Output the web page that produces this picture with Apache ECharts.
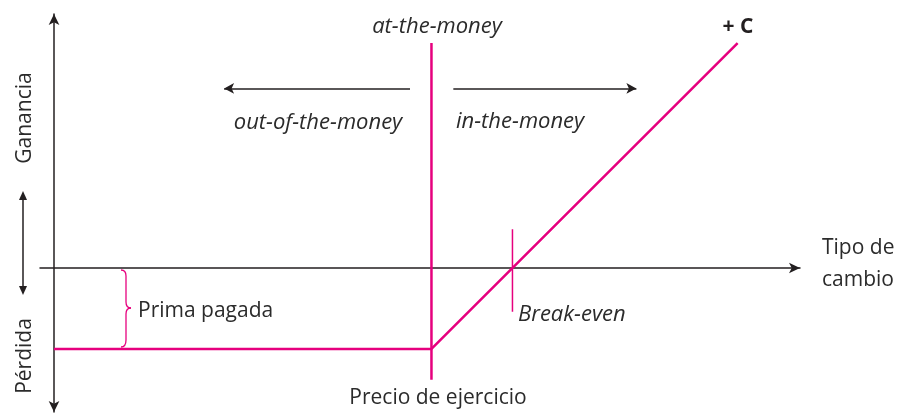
<!DOCTYPE html>
<html><head><meta charset="utf-8">
<script src="https://cdn.jsdelivr.net/npm/echarts@6/dist/echarts.min.js"></script>
<style>html,body{margin:0;padding:0;background:#fff}#c{width:902px;height:416px}</style>
</head><body><div id="c"></div>
<script>
// Schematic values (units: premium = 10)
const strike = 46.6;
const premium = 10;
const breakEven = strike + premium;
const payoffX = [0, strike, 84.4];
const payoffY = [-premium, -premium, 84.4 - breakEven];
const atmLine = [[strike, 27.8], [strike, -13.8]];
const breakEvenTick = [[breakEven, 4.8], [breakEven, -5.4]];
const arrowOut = [[43.95, 22.2], [21.0, 22.2]];
const arrowIn = [[49.3, 22.2], [71.9, 22.2]];

const MAG = '#e6007e', INK = '#231f20', TXT = '#2b2b2b';
const FONT = '"Open Sans", "Noto Sans", sans-serif';
const FS = '21px ';
const FI = 'italic 22px ';
const chart = echarts.init(document.getElementById('c'));
const txt = (x, y, s, o) => ({type:'text', x, y, style: Object.assign({text:s, fill:TXT, font:FS + FONT, textAlign:'left', textVerticalAlign:'middle'}, o||{})});
const bz = (x1,y1,cx,cy,x2,y2) => ({type:'bezierCurve', shape:{x1,y1,cpx1:cx,cpy1:cy,x2,y2}, style:{stroke:MAG, lineWidth:1.3, fill:null}});
const ln = (x1,y1,x2,y2,c,w) => ({type:'line', shape:{x1,y1,x2,y2}, style:{stroke:c, lineWidth:w}});
chart.setOption({
  animation:false,
  grid:{left:40, right:102, top:14, bottom:4},
  xAxis:{type:'value', min:-1.73, max:92.1, axisLine:{show:true, onZero:true, symbol:['none','arrow'], symbolSize:[8,11], lineStyle:{color:INK, width:1.5}}, axisTick:{show:false}, axisLabel:{show:false}, splitLine:{show:false}},
  yAxis:{type:'value', min:-17.8, max:31.4, axisLine:{show:true, onZero:true, symbol:['arrow','arrow'], symbolSize:[8,11], lineStyle:{color:INK, width:1.5}}, axisTick:{show:false}, axisLabel:{show:false}, splitLine:{show:false}},
  series:[
    {type:'line', data: payoffX.map((x,i)=>[x, payoffY[i]]), symbol:'none', lineStyle:{color:MAG, width:2.5}, z:5},
    {type:'line', data: atmLine, symbol:'none', lineStyle:{color:MAG, width:2.5}},
    {type:'line', data: breakEvenTick, symbol:'none', lineStyle:{color:MAG, width:1.5}},
    {type:'line', data: [], markLine:{silent:true, symbol:['none','arrow'], symbolSize:[8,10], label:{show:false}, lineStyle:{color:INK, width:1.5, type:'solid'},
      data:[[{coord:arrowOut[0]},{coord:arrowOut[1]}],[{coord:arrowIn[0]},{coord:arrowIn[1]}]]}}
  ],
  graphic:[
    txt(437, 27, 'at-the-money', {textAlign:'center', font:FI + FONT}),
    txt(738, 27, '+ C', {textAlign:'center', font:'bold 21px ' + FONT, fill:INK}),
    txt(318, 123, 'out-of-the-money', {textAlign:'center', font:FI + FONT}),
    txt(456, 122, 'in-the-money', {font:FI + FONT}),
    txt(822, 248, 'Tipo de'),
    txt(822, 280, 'cambio'),
    txt(518, 315, 'Break-even', {font:FI + FONT}),
    txt(438, 398, 'Precio de ejercicio', {textAlign:'center'}),
    txt(138, 311, 'Prima pagada'),
    {type:'text', x:25, y:118, rotation:Math.PI/2, style:{text:'Ganancia', fill:TXT, font:FS + FONT, textAlign:'center', textVerticalAlign:'middle'}},
    {type:'text', x:25, y:356, rotation:Math.PI/2, style:{text:'Pérdida', fill:TXT, font:FS + FONT, textAlign:'center', textVerticalAlign:'middle'}},
    ln(23,198,23,288,INK,1.5),
    {type:'polygon', shape:{points:[[23,191],[19,200],[27,200]]}, style:{fill:INK}},
    {type:'polygon', shape:{points:[[23,295],[19,286],[27,286]]}, style:{fill:INK}},
    bz(121,270,126,270,126,276),
    ln(126,276,126,302,MAG,1.3),
    bz(126,302,126,308,131,308),
    bz(131,308,126,308,126,314),
    ln(126,314,126,340,MAG,1.3),
    bz(126,340,126,347,121,347)
  ]
});
</script></body></html>
